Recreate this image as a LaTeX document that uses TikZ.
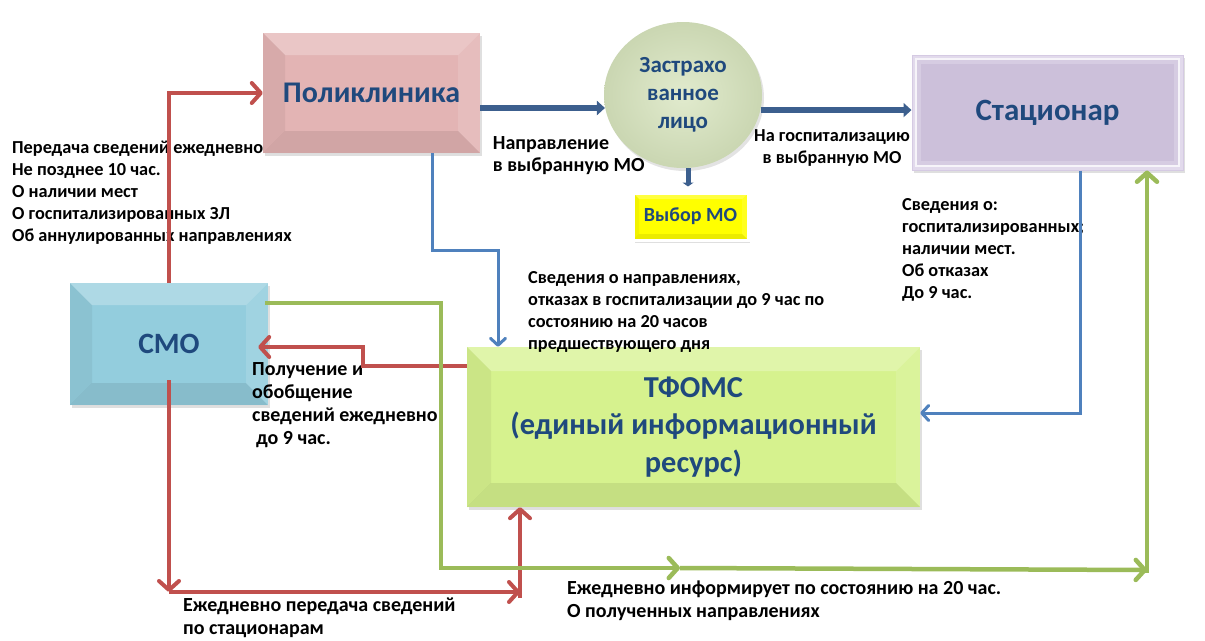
\documentclass[tikz,border=0pt]{standalone}
\usepackage{fontspec}
\setmainfont{Carlito}
\usetikzlibrary{arrows.meta,shapes.geometric,shadows}
\definecolor{tx}{HTML}{1F497D}
\definecolor{rd}{HTML}{C0504D}
\definecolor{gr}{HTML}{9BBB59}
\definecolor{bl}{HTML}{4F81BD}
\definecolor{dbl}{HTML}{3C5F8E}
\definecolor{polc}{HTML}{E3B4B4}
\definecolor{smoc}{HTML}{93CDDD}
\definecolor{tfc}{HTML}{D6F28E}
\definecolor{stc}{HTML}{CCC0DA}
\definecolor{stb}{HTML}{E2DAEC}
\definecolor{cic}{HTML}{D7E4BD}
\definecolor{yc}{HTML}{FFFF00}
\newcommand\lblfont{\fontsize{18.3}{22}\selectfont\bfseries}
\newcommand\lblfontB{\fontsize{20}{23}\selectfont\bfseries}
\newcommand\bigfont{\fontsize{30}{36}\selectfont\bfseries}
\begin{document}
\begin{tikzpicture}[x=1pt,y=-1pt,
  bevel/.style={path picture={
    \fill[white,opacity=.25] (path picture bounding box.north west) -- (path picture bounding box.north east) -- ([xshift=-#1,yshift=-#1]path picture bounding box.north east) -- ([xshift=#1,yshift=-#1]path picture bounding box.north west) -- cycle;
    \fill[black,opacity=.08] (path picture bounding box.south west) -- (path picture bounding box.south east) -- ([xshift=-#1,yshift=#1]path picture bounding box.south east) -- ([xshift=#1,yshift=#1]path picture bounding box.south west) -- cycle;
    \fill[black,opacity=.05] (path picture bounding box.north west) -- ([xshift=#1,yshift=-#1]path picture bounding box.north west) -- ([xshift=#1,yshift=#1]path picture bounding box.south west) -- (path picture bounding box.south west) -- cycle;
    \fill[white,opacity=.12] (path picture bounding box.north east) -- ([xshift=-#1,yshift=-#1]path picture bounding box.north east) -- ([xshift=-#1,yshift=#1]path picture bounding box.south east) -- (path picture bounding box.south east) -- cycle;
  }},
  box/.style={rectangle, inner sep=0pt, font=\bigfont, text=tx, align=center,
    drop shadow={opacity=.25,shadow xshift=2pt,shadow yshift=-3pt}},
  lbl/.style={font=\lblfont, align=left, anchor=north west, inner sep=0pt, text=black},
  lblB/.style={lbl, font=\lblfontB},
  redarrow/.style={draw=rd, line width=4pt, -{Straight Barb[length=9pt,width=20pt,round]}},
  grarrow/.style={draw=gr, line width=4.5pt, -{Straight Barb[length=9pt,width=20pt,round]}},
  blarrow/.style={draw=bl, line width=3pt, -{Straight Barb[length=7pt,width=15pt,round]}},
  dbarrow/.style={draw=dbl, line width=6pt, -{Triangle[length=8pt,width=14pt]}}
]
\useasboundingbox (0,0) rectangle (1205,640);

% boxes
\node[box, fill=polc, bevel=22pt, minimum width=217pt, minimum height=120pt] (pol) at (371.5,93) {Поликлиника};
\node[box, fill=smoc, bevel=22pt, minimum width=198pt, minimum height=122pt, font=\fontsize{29.5}{35}\selectfont\bfseries] (smo) at (169,344) {СМО};
\node[box, fill=tfc, bevel=24pt, minimum width=453pt, minimum height=160pt, font=\fontsize{30.4}{37.5}\selectfont\bfseries] (tf) at (693.5,427) {ТФОМС\\(единый информационный\\ресурс)};
\node[box, fill=stb, draw={rgb,255:red,213;green,202;blue,227}, line width=1pt, minimum width=271pt, minimum height=115pt,
  font=\fontsize{31}{37}\selectfont\bfseries,
  path picture={
    \fill[white!70!stb] ([xshift=3pt,yshift=-3pt]path picture bounding box.north west) rectangle ([xshift=-3pt,yshift=3pt]path picture bounding box.south east);
    \fill[stc!55!stb] ([xshift=5pt,yshift=-5pt]path picture bounding box.north west) rectangle ([xshift=-5pt,yshift=5pt]path picture bounding box.south east);
    \fill[stc] ([xshift=9pt,yshift=-9pt]path picture bounding box.north west) rectangle ([xshift=-9pt,yshift=9pt]path picture bounding box.south east);
  }] (st) at (1047.5,112.5) {Стационар};
\node[ellipse, minimum width=158pt, minimum height=146pt, inner sep=0pt, inner color=cic!75!white, outer color=cic!94!black,
  drop shadow={opacity=.22,shadow xshift=2pt,shadow yshift=-3pt},
  font=\fontsize{23}{28}\selectfont\bfseries, text=tx, align=center] (circ) at (683,95) {Застрахо\\ванное\\лицо};
\node[box, fill=yc, draw=white, line width=3pt, bevel=6pt, minimum width=115pt, minimum height=47pt,
  font=\fontsize{20}{24}\selectfont\bfseries,
  drop shadow={opacity=.35,shadow xshift=2pt,shadow yshift=-2pt}] (vyb) at (690.5,216.5) {Выбор МО};

% labels
\node[lbl] (t1) at (12,137.6) {\strut Передача сведений ежедневно\\Не позднее 10 час.\\О наличии мест\\О госпитализированных ЗЛ\\Об аннулированных направлениях};
\node[lblB, font=\fontsize{20}{22.5}\selectfont\bfseries] (t2) at (492.7,133.3) {\strut Направление\\в выбранную МО};
\node[lbl, align=center, anchor=north] (t3) at (832,126.3) {\strut На госпитализацию\\в выбранную МО};
\node[lbl] (t4) at (902,194.6) {\strut Сведения о:\\госпитализированных;\\наличии мест.\\Об отказах\\До 9 час.};
\node[lbl] (t5) at (528,267.6) {\strut Сведения о направлениях,\\отказах в госпитализации до 9 час по\\состоянию на 20 часов\\предшествующего дня};
\node[lblB] (t6) at (252,358.9) {\strut Получение и\\обобщение\\сведений ежедневно\\\hspace*{4pt}до 9 час.};
\node[lblB] (t7) at (183,594.9) {\strut Ежедневно передача сведений\\по стационарам};
\node[lblB] (t8) at (567,577.9) {\strut Ежедневно информирует по состоянию на 20 час.\\О полученных направлениях};

% coordinates
\coordinate (gc) at (1147,570);
\coordinate (rb) at (169,592);
\coordinate (rc) at (520,592);

% dark blue arrows
\draw[dbarrow] ([yshift=-15pt]pol.east) -- ([yshift=-15pt]pol.east -| circ.189);
\draw[dbarrow] (circ.-11) -- (circ.-11 -| st.west);
\draw[draw=dbl, line width=5pt, -{Triangle[length=4pt,width=11pt]}] ([xshift=5pt]circ.south) -- ([xshift=-2.5pt,yshift=5pt]vyb.north);

% thin blue
\draw[blarrow] ([xshift=60.5pt]pol.south) -- (432,250) -| ([xshift=-195.5pt]tf.north);
\draw[blarrow] ([xshift=32.5pt]st.south) |- ([yshift=14pt]tf.east);

% red
\draw[redarrow] (smo.north) |- (pol.west);
\draw[redarrow] ([yshift=-19pt]tf.north west) -| (363,347) -- ([xshift=-10pt,yshift=-3pt]smo.east);
\draw[redarrow] ([yshift=-36pt]smo.center) -- (rb);
\draw[redarrow] (rb) -- (rc);
\draw[redarrow] ([yshift=-6pt]rc) -- ([xshift=-173.5pt]tf.south);

% green
\draw[grarrow] ([xshift=-3pt,yshift=41pt]smo.east) -| (441,568) -- (680,568);
\draw[grarrow] (680,568) -- (gc);
\draw[grarrow] ([yshift=-3pt]gc) -- (st.south -| gc);
\end{tikzpicture}
\end{document}
